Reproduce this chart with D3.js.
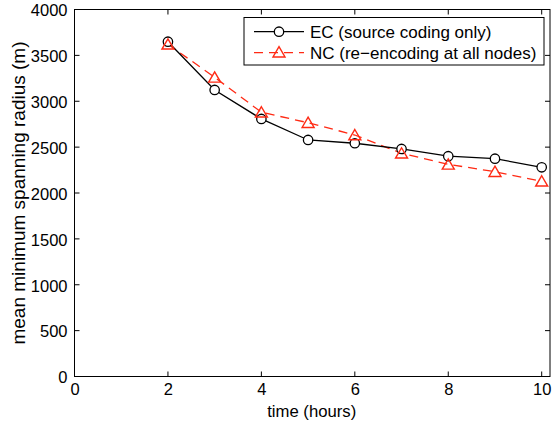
<!DOCTYPE html>
<html>
<head>
<meta charset="utf-8">
<script src="https://cdn.jsdelivr.net/npm/d3@7"></script>
<style>
  html, body { margin: 0; padding: 0; background: #fff; }
  svg { display: block; }
  text { font-family: "Liberation Sans", Arial, Helvetica, sans-serif; fill: #000; }
</style>
</head>
<body>
<svg id="chart" width="552" height="425"></svg>
<script>
// ---- data ----
const hours = [2, 3, 4, 5, 6, 7, 8, 9, 10];
const ecValues = [3649, 3123, 2807, 2578, 2542, 2480, 2401, 2374, 2280];
const ncValues = [3621, 3261, 2880, 2766, 2632, 2433, 2313, 2232, 2128];
const seriesNames = ["EC (source coding only)", "NC (re\u2212encoding at all nodes)"];
const xTicks = [0, 2, 4, 6, 8, 10];
const yTicks = [0, 500, 1000, 1500, 2000, 2500, 3000, 3500, 4000];
const xLabel = "time (hours)";
const yLabel = "mean minimum spanning radius (m)";

// ---- layout ----
const FS = 16.5;
const plotLeft = 74.5, plotTop = 9.5, plotBottom = 376.5;
const x10px = 541.7;
const xScale = d3.scaleLinear().domain([0, 10]).range([plotLeft, x10px]);
const xMax = xScale.invert(550);
const yScale = d3.scaleLinear().domain([0, 4000]).range([plotBottom, plotTop]);
const plotRight = xScale(xMax);

const svg = d3.select("#chart");
const red = "#ff2a14";

// frame
svg.append("rect")
  .attr("x", plotLeft).attr("y", plotTop)
  .attr("width", plotRight - plotLeft).attr("height", plotBottom - plotTop)
  .attr("fill", "none").attr("stroke", "#000").attr("stroke-width", 1);

const tickLen = 5;
xTicks.forEach(t => {
  svg.append("line").attr("x1", xScale(t)).attr("x2", xScale(t))
    .attr("y1", plotBottom).attr("y2", plotBottom - tickLen).attr("stroke", "#000");
  svg.append("line").attr("x1", xScale(t)).attr("x2", xScale(t))
    .attr("y1", plotTop).attr("y2", plotTop + tickLen).attr("stroke", "#000");
});
yTicks.forEach(t => {
  svg.append("line").attr("x1", plotLeft).attr("x2", plotLeft + tickLen)
    .attr("y1", yScale(t)).attr("y2", yScale(t)).attr("stroke", "#000");
  svg.append("line").attr("x1", plotRight).attr("x2", plotRight - tickLen)
    .attr("y1", yScale(t)).attr("y2", yScale(t)).attr("stroke", "#000");
});

// tick labels via axis generators (domain/tick lines removed)
const gx = svg.append("g").attr("transform", `translate(0,${plotBottom})`)
  .call(d3.axisBottom(xScale).tickValues(xTicks).tickSize(0).tickPadding(0).tickFormat(d3.format("d")));
gx.select(".domain").remove();
gx.selectAll("text").attr("font-size", FS).attr("dy", null).attr("y", 18.5)
  .style("font-family", "Liberation Sans, Arial, sans-serif").attr("fill", "#000");

const gy = svg.append("g").attr("transform", `translate(${plotLeft},0)`)
  .call(d3.axisLeft(yScale).tickValues(yTicks).tickSize(0).tickPadding(0).tickFormat(d3.format("d")));
gy.select(".domain").remove();
gy.selectAll("text").attr("font-size", FS).attr("x", -7).attr("dy", null).attr("y", 6.3)
  .style("font-family", "Liberation Sans, Arial, sans-serif").attr("fill", "#000");

// axis titles
svg.append("text").attr("x", 311.7).attr("y", 417)
  .attr("text-anchor", "middle").attr("font-size", 16.7).text(xLabel);
svg.append("text")
  .attr("transform", `translate(25,${(plotTop + plotBottom) / 2}) rotate(-90)`)
  .attr("text-anchor", "middle").attr("font-size", 19).text(yLabel);

// series
const ecData = hours.map((h, i) => [h, ecValues[i]]);
const ncData = hours.map((h, i) => [h, ncValues[i]]);
const line = d3.line().x(d => xScale(d[0])).y(d => yScale(d[1]));

svg.append("path").datum(ncData).attr("d", line)
  .attr("fill", "none").attr("stroke", red).attr("stroke-width", 1.3)
  .attr("stroke-dasharray", "9,6");
svg.append("path").datum(ecData).attr("d", line)
  .attr("fill", "none").attr("stroke", "#000").attr("stroke-width", 1.3);

const triPath = "M0,-5.5L6,4.8L-6,4.8Z";
function circleMarker(g, cx, cy) {
  g.append("circle").attr("cx", cx).attr("cy", cy).attr("r", 4.7)
    .attr("fill", "#fff").attr("stroke", "#000").attr("stroke-width", 1.3);
}
function triMarker(g, cx, cy) {
  g.append("path").attr("d", triPath).attr("transform", `translate(${cx},${cy})`)
    .attr("fill", "none").attr("stroke", red).attr("stroke-width", 1.4);
}
ecData.forEach(d => circleMarker(svg, xScale(d[0]), yScale(d[1])));
ncData.forEach(d => triMarker(svg, xScale(d[0]), yScale(d[1])));

// legend
const lg = svg.append("g");
lg.append("rect").attr("x", 244).attr("y", 17.5).attr("width", 300).attr("height", 47.5)
  .attr("fill", "#fff").attr("stroke", "#000").attr("stroke-width", 1);
const rows = [31.7, 52.7];
lg.append("line").attr("x1", 254).attr("x2", 304).attr("y1", rows[0]).attr("y2", rows[0])
  .attr("stroke", "#000").attr("stroke-width", 1.3);
circleMarker(lg, 279, rows[0]);
lg.append("line").attr("x1", 254).attr("x2", 304).attr("y1", rows[1]).attr("y2", rows[1])
  .attr("stroke", red).attr("stroke-width", 1.3).attr("stroke-dasharray", "9,6").attr("stroke-dashoffset", 0);
triMarker(lg, 279, rows[1] - 0.5);
seriesNames.forEach((n, i) => {
  lg.append("text").attr("x", 310).attr("y", rows[i] + 6.2).attr("font-size", 17).text(n);
});
</script>
</body>
</html>
